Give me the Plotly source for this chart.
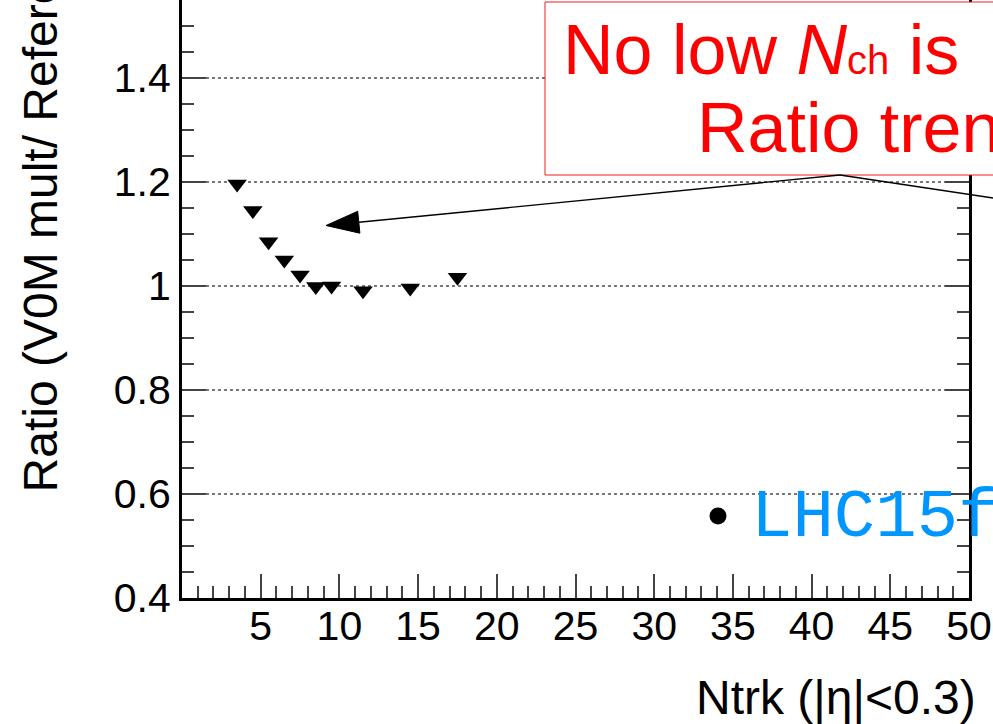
import plotly.graph_objects as go

# ---- data ----
ntrk = [3.5, 4.5, 5.5, 6.5, 7.5, 8.5, 9.5, 11.5, 14.5, 17.5]
ratio = [1.196, 1.145, 1.085, 1.050, 1.021, 0.999, 1.000, 0.991, 0.996, 1.017]

x_tickvals = [5, 10, 15, 20, 25, 30, 35, 40, 45, 50]
x_ticktext = ["5", "10", "15", "20", "25", "30", "35", "40", "45", "50"]
y_tickvals = [0.4, 0.6, 0.8, 1.0, 1.2, 1.4]
y_ticktext = ["0.4", "0.6", "0.8", "1", "1.2", "1.4"]

x_title = "Ntrk (|η|<0.3)"
y_title = "Ratio (V0M mult/ Reference)"
note_line1 = "No low <i>N</i><span style='font-size:40px'>ch</span> is"
note_line2 = "Ratio trend"
legend_text = "LHC15f"

# ---- layout geometry (pixels) ----
W, H = 993, 724
L, R, T, B = 182, 969, 0, 598   # plot area edges


def px(xp):
    return (xp - L) / (R - L)


def py(yp):
    return (B - yp) / (B - T)


FONT = "Liberation Sans, Arial, Helvetica, sans-serif"

fig = go.Figure()
fig.add_trace(go.Scatter(
    x=ntrk, y=ratio, mode="markers",
    marker=dict(symbol="triangle-down", size=17, color="black", line=dict(width=0)),
    showlegend=False,
))

axis_common = dict(
    showline=True, linecolor="black", linewidth=3,
    ticks="inside", tickcolor="#444", tickwidth=2,
    tickfont=dict(family=FONT, size=41, color="black"),
    zeroline=False,
)

fig.update_xaxes(
    range=[0, 50], tickmode="array", tickvals=x_tickvals, ticktext=x_ticktext,
    ticklen=24, showgrid=False, ticklabelstandoff=-10,
    minor=dict(dtick=1, ticks="inside", ticklen=12, tickcolor="#444", tickwidth=2, showgrid=False),
    **axis_common,
)
fig.update_yaxes(
    range=[0.4, 0.4 + (B - T) / 520.0], tickmode="array", tickvals=y_tickvals, ticktext=y_ticktext,
    ticklen=24, mirror="ticks", ticklabelstandoff=0,
    showgrid=True, gridcolor="#777", gridwidth=2, griddash="dot",
    minor=dict(dtick=0.05, tick0=0.4, ticks="inside", ticklen=12, tickcolor="#444", tickwidth=2, showgrid=False),
    **axis_common,
)

# arrow geometry
tip = (326, 225.5)
tail = (840, 175)
end2 = (1000, 199)
back = (358.8, 222.3)
c1 = (359.9, 233.2)
c2 = (357.7, 211.3)

shapes = [
    # red note box
    dict(type="rect", xref="paper", yref="paper", x0=px(545), x1=px(1010), y0=py(175), y1=py(2),
         line=dict(color="rgb(235,30,30)", width=1), fillcolor="white", layer="above"),
    # arrow lines
    dict(type="line", xref="paper", yref="paper", x0=px(tail[0]), y0=py(tail[1]), x1=px(back[0]), y1=py(back[1]),
         line=dict(color="black", width=1.4), layer="above"),
    dict(type="line", xref="paper", yref="paper", x0=px(tail[0]), y0=py(tail[1]), x1=px(end2[0]), y1=py(end2[1]),
         line=dict(color="black", width=1.4), layer="above"),
    # arrow head
    dict(type="path", xref="paper", yref="paper",
         path=f"M {px(tip[0])},{py(tip[1])} L {px(c1[0])},{py(c1[1])} L {px(c2[0])},{py(c2[1])} Z",
         fillcolor="black", line=dict(color="black", width=1), layer="above"),
    # bullet
    dict(type="circle", xref="paper", yref="paper", x0=px(709.5), x1=px(726.5), y0=py(524.5), y1=py(507.5),
         fillcolor="black", line=dict(width=0), layer="above"),
]

annotations = [
    dict(text=note_line1, xref="paper", yref="paper", x=px(561), y=py(90.8),
         xanchor="left", yanchor="bottom", showarrow=False,
         font=dict(family=FONT, size=70, color="red")),
    dict(text=note_line2, xref="paper", yref="paper", x=px(695), y=py(168.8),
         xanchor="left", yanchor="bottom", showarrow=False,
         font=dict(family=FONT, size=70, color="red")),
    dict(text=legend_text, xref="paper", yref="paper", x=px(749), y=py(559),
         xanchor="left", yanchor="bottom", showarrow=False,
         font=dict(family="Liberation Mono, Cousine, monospace", size=69, color="rgb(0,150,255)")),
    dict(text=x_title, xref="paper", yref="paper", x=px(978), y=py(697.3),
         xanchor="right", yanchor="middle", showarrow=False,
         font=dict(family=FONT, size=48, color="black")),
    dict(text=y_title, xref="paper", yref="paper", x=px(40.4), y=py(494),
         xanchor="center", yanchor="bottom", showarrow=False, textangle=-90,
         font=dict(family=FONT, size=48, color="black")),
]

fig.update_layout(
    width=W, height=H,
    margin=dict(l=L, r=W - R, t=T, b=H - B, pad=0),
    paper_bgcolor="white", plot_bgcolor="white",
    shapes=shapes, annotations=annotations,
    showlegend=False,
)

fig.write_html("out.html")
